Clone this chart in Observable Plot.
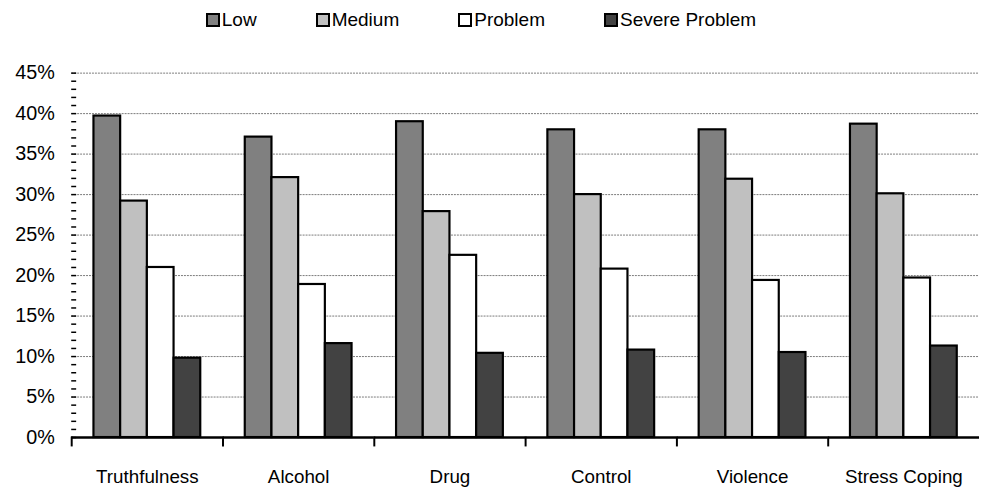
<!DOCTYPE html>
<html>
<head>
<meta charset="utf-8">
<script src="https://cdn.jsdelivr.net/npm/d3@7"></script>
<script src="https://cdn.jsdelivr.net/npm/@observablehq/plot@0.6"></script>
<style>
  html, body { margin: 0; padding: 0; background: #fff; overflow: hidden; }
  body { font-family: "Liberation Sans", Arial, sans-serif; color: #000; width: 981px; height: 493px; }
  #legend { display: flex; justify-content: center; align-items: center; height: 40px; padding-right: 19px; box-sizing: border-box; width: 981px; font-size: 19px; }
  .item { display: flex; align-items: center; margin: 0 29.5px; }
  .sw { width: 14px; height: 14px; box-sizing: border-box; border: 2px solid #000; margin-right: 2px; }
  #chart svg { display: block; }
</style>
</head>
<body>
<div id="legend"></div>
<div id="chart"></div>
<script>
const categories = ["Truthfulness", "Alcohol", "Drug", "Control", "Violence", "Stress Coping"];
const levels = ["Low", "Medium", "Problem", "Severe Problem"];
const low = [39.7, 37.1, 39.0, 38.0, 38.0, 38.7];
const medium = [29.2, 32.1, 27.9, 30.0, 31.9, 30.1];
const problem = [21.0, 18.9, 22.5, 20.8, 19.4, 19.7];
const severe = [9.8, 11.6, 10.4, 10.8, 10.5, 11.3];
const colors = ["#808080", "#c0c0c0", "#ffffff", "#424242"];
const yMajor = [0, 5, 10, 15, 20, 25, 30, 35, 40, 45];
const yMinor = d3.range(0, 46, 1);

const series = [low, medium, problem, severe];
const data = [];
categories.forEach((c, i) => levels.forEach((l, j) => data.push({category: c, level: l, value: series[j][i]})));

// legend
const legend = document.getElementById("legend");
levels.forEach((l, j) => {
  const it = document.createElement("div");
  it.className = "item";
  const sw = document.createElement("div");
  sw.className = "sw";
  sw.style.background = colors[j];
  const t = document.createElement("span");
  t.textContent = l;
  it.appendChild(sw); it.appendChild(t);
  legend.appendChild(it);
});

const H = 453, mt = 33, mb = 51.5;
const plot = Plot.plot({
  width: 992,
  height: H,
  marginLeft: 70.5,
  marginRight: 0,
  marginTop: mt,
  marginBottom: mb,
  style: {fontFamily: '"Liberation Sans", Arial, sans-serif', fontSize: "19px", color: "#000", background: "#fff"},
  fx: {domain: categories, padding: 0, label: null},
  x: {domain: levels, paddingInner: 0, paddingOuter: 0.743, axis: null},
  y: {domain: [0, 45], label: null},
  color: {domain: levels, range: colors},
  marks: [
    Plot.gridY(yMajor.filter(d => d > 0), {stroke: "#7a7a7a", strokeOpacity: 1, strokeDasharray: "2,1"}),
    Plot.barY(data, {fx: "category", x: "level", y: "value", fill: "level", stroke: "#000", strokeWidth: 2.2}),
    Plot.ruleY([0], {stroke: "#000", strokeWidth: 2.5}),
    Plot.frame({anchor: "left", insetTop: H - mt - mb, insetBottom: -8, stroke: "#000", strokeWidth: 2}),
    Plot.axisY({ticks: yMajor, tickFormat: d => d + "%", tickSize: 0, tickPadding: 17, fontSize: 20, line: true, strokeWidth: 2}),
    Plot.axisY({ticks: yMinor, tickSize: -5, text: null, strokeWidth: 1.5}),
    Plot.axisFx({anchor: "bottom", tickSize: 0, tickPadding: 32, label: null, fontSize: 19})
  ]
});
document.getElementById("chart").appendChild(plot);
</script>
</body>
</html>
